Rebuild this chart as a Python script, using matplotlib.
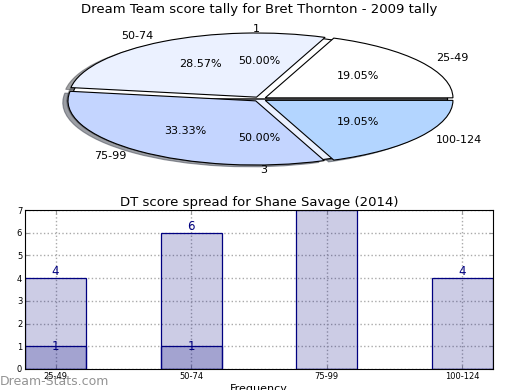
import numpy as np
import matplotlib
matplotlib.use("Agg")
import matplotlib.pyplot as plt

# pie data
pie_labels = ["25-49", "50-74", "75-99", "100-124"]
pie_values = [4, 6, 7, 4]
pie_colors = ["#ffffff", "#ebf1ff", "#c4d5ff", "#b3d5ff"]
round_labels = ["1", "3"]
round_values = [1, 1]
round_colors = ["#ffffff", "#ebf1ff"]

# bar data
bar_cats = ["25-49", "50-74", "75-99", "100-124"]
bar_total = [4, 6, 7, 4]
bar_low = [1, 1, 0, 0]

fig = plt.figure(figsize=(5.2, 3.9), dpi=100)

# top: squashed pie
pw, ph = 450.5, 154.0
cx, cy = 259.8, 99.1
ax1 = fig.add_axes([(cx - pw / 2) / 520, 1 - (cy + ph / 2) / 390, pw / 520, ph / 390])
ax1.pie(round_values, labels=round_labels, colors=round_colors,
        autopct="%.2f%%", shadow=True, startangle=0,
        wedgeprops=dict(edgecolor="black", linewidth=0.8),
        textprops=dict(fontsize=8))
ax1.pie(pie_values, labels=pie_labels, colors=pie_colors,
        autopct="%.2f%%", explode=[0.035] * 4, shadow=True,
        wedgeprops=dict(edgecolor="black", linewidth=0.8),
        textprops=dict(fontsize=8))
ax1.set_aspect("auto")
ax1.set_xlim(-1.2, 1.2)
ax1.set_ylim(-1.2, 1.2)
fig.text(259 / 520, 1 - 10 / 390, "Dream Team score tally for Bret Thornton - 2009 tally",
         fontsize=9.5, ha="center", va="center")

# bottom: bar spread
ax2 = fig.add_axes([25 / 520, 1 - 369 / 390, 468 / 520, 159 / 390])
x = np.arange(len(bar_cats))
w = 0.45
face = (0, 0, 0.5, 0.2)
ax2.bar(x, bar_total, w, facecolor=face, edgecolor="#000080", linewidth=0.9)
ax2.bar(x, bar_low, w, facecolor=face, edgecolor="#000080", linewidth=0.9)
for i in range(len(x)):
    ax2.text(x[i], bar_total[i], str(bar_total[i]), ha="center", va="bottom",
             color="#000080", fontsize=8.5, clip_on=True)
    if bar_low[i] > 0:
        ax2.text(x[i], bar_low[i], str(bar_low[i]), ha="center", va="center",
                 color="#000080", fontsize=8.5, clip_on=True)
ax2.set_xlim(-w / 2, len(x) - 1 + w / 2)
ax2.set_ylim(0, 7)
ax2.set_xticks(x)
ax2.set_xticklabels(bar_cats)
ax2.set_yticks(range(8))
ax2.tick_params(labelsize=6, direction="in", length=3, right=True, top=True,
                color="#999999", pad=2)
ax2.grid(True, linestyle=":", color="#aaaaaa", linewidth=1)
ax2.set_axisbelow(True)
ax2.set_xlabel("Frequency", fontsize=8, labelpad=2)
ax2.set_title("DT score spread for Shane Savage (2014)", fontsize=9.5, pad=3)

fig.text(0.0, 0.012, "Dream-Stats.com", fontsize=9, color="#808080", alpha=0.85)

fig.savefig("out.png", dpi=100)
